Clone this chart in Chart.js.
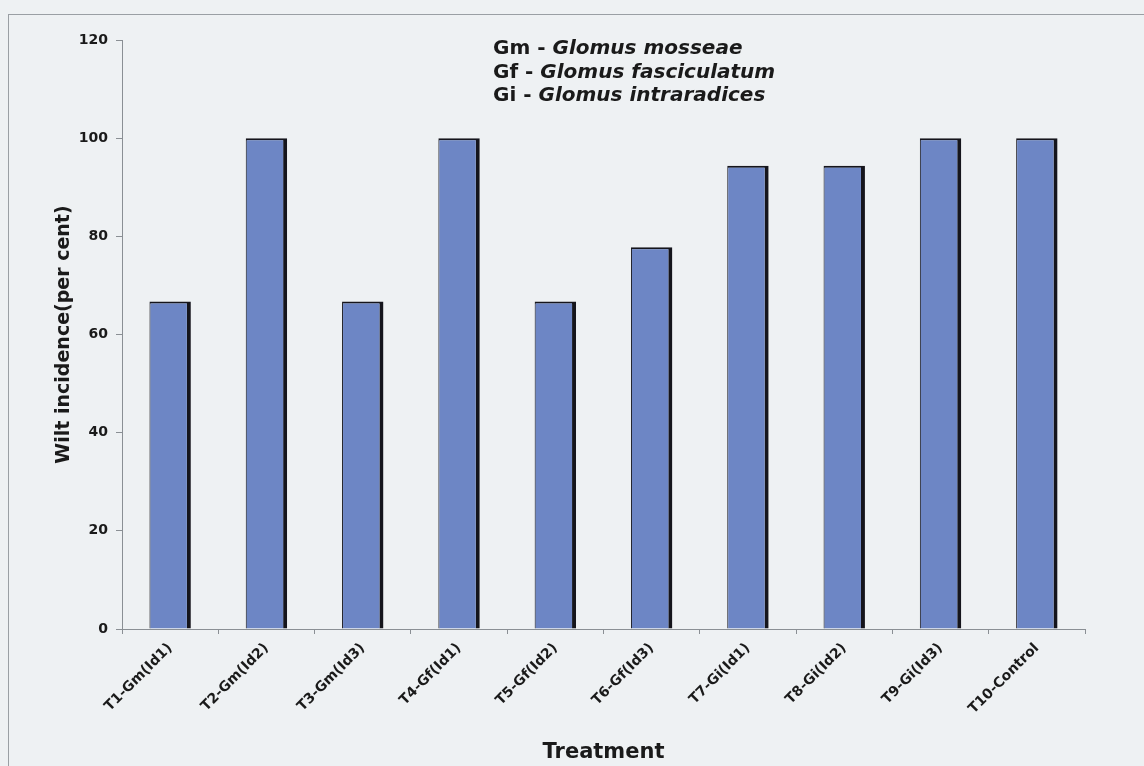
<!DOCTYPE html>
<html>
<head>
<meta charset="utf-8">
<script src="https://cdn.jsdelivr.net/npm/chart.js@4"></script>
<style>
  html, body { margin: 0; padding: 0; background: #eef1f3; }
  #wrap { position: relative; width: 1144px; height: 766px; }
  #frame { position: absolute; left: 8px; top: 14px; right: -2px; bottom: -2px; border-left: 1px solid #9a9fa4; border-top: 1px solid #9a9fa4; }
</style>
</head>
<body>
<div id="wrap">
  <div id="frame"></div>
  <canvas id="wiltChart" width="1144" height="766"></canvas>
</div>
<script>
// treatments on the x axis
const treatments = ['T1-Gm(Id1)', 'T2-Gm(Id2)', 'T3-Gm(Id3)', 'T4-Gf(Id1)', 'T5-Gf(Id2)',
  'T6-Gf(Id3)', 'T7-Gi(Id1)', 'T8-Gi(Id2)', 'T9-Gi(Id3)', 'T10-Control'];
// wilt incidence, per cent
const wiltIncidence = [66.7, 100, 66.7, 100, 66.7, 77.8, 94.4, 94.4, 100, 100];
// y axis ticks
const yTicks = [0, 20, 40, 60, 80, 100, 120];
// key in the top of the plot
const keyAbbrev = ['Gm', 'Gf', 'Gi'];
const keyNames = ['Glomus mosseae', 'Glomus fasciculatum', 'Glomus intraradices'];

const FONT = '"DejaVu Sans", "Liberation Sans", Arial, sans-serif';

// draws the species key as text
const keyPlugin = {
  id: 'speciesKey',
  afterDraw(chart) {
    const ctx = chart.ctx;
    ctx.save();
    ctx.fillStyle = '#1a1a1a';
    ctx.textBaseline = 'middle';
    for (let i = 0; i < keyAbbrev.length; i++) {
      const y = 49 + i * 23.5;
      let x = 493;
      ctx.font = 'bold 20px ' + FONT;
      const lead = keyAbbrev[i] + ' - ';
      ctx.fillText(lead, x, y);
      x += ctx.measureText(lead).width;
      ctx.font = 'italic bold 20px ' + FONT;
      ctx.fillText(keyNames[i], x, y);
    }
    ctx.restore();
  }
};

const ctx = document.getElementById('wiltChart').getContext('2d');
const wiltChart = new Chart(ctx, {
  type: 'bar',
  data: {
    labels: treatments,
    datasets: [{
      label: 'Wilt incidence',
      data: wiltIncidence,
      backgroundColor: '#6d86c5',
      borderColor: '#15151c',
      borderWidth: { left: 1, right: 4, top: 2, bottom: 0 },
      borderSkipped: false,
      categoryPercentage: 1,
      barPercentage: 0.43
    }]
  },
  options: {
    responsive: false,
    animation: false,
    layout: { padding: { left: 8, top: 40, right: 59, bottom: 0 } },
    plugins: {
      legend: { display: false },
      tooltip: { enabled: false }
    },
    scales: {
      x: {
        afterFit(scale) { scale.height = 137; },
        grid: { offset: true, drawOnChartArea: false, tickLength: 5, tickColor: '#8a8f94' },
        border: { color: '#8a8f94', width: 1 },
        ticks: {
          color: '#1a1a1a',
          font: { family: FONT, size: 14, weight: 'bold' },
          maxRotation: 45,
          minRotation: 45,
          padding: 6,
          autoSkip: false
        },
        title: {
          display: true,
          text: 'Treatment',
          color: '#1a1a1a',
          font: { family: FONT, size: 21, weight: 'bold' },
          padding: { top: 0, bottom: 1 }
        }
      },
      y: {
        min: 0,
        max: 120,
        afterFit(scale) { scale.width = 114; },
        afterBuildTicks(scale) { scale.ticks = yTicks.map(v => ({ value: v })); },
        grid: { drawOnChartArea: false, tickLength: 6, tickColor: '#8a8f94' },
        border: { color: '#8a8f94', width: 1 },
        ticks: {
          color: '#1a1a1a',
          font: { family: FONT, size: 14, weight: 'bold' },
          padding: 8
        },
        title: {
          display: true,
          text: 'Wilt incidence(per cent)',
          color: '#1a1a1a',
          font: { family: FONT, size: 19, weight: 'bold' },
          padding: { top: 45, bottom: 0 }
        }
      }
    }
  },
  plugins: [keyPlugin]
});
</script>
</body>
</html>
